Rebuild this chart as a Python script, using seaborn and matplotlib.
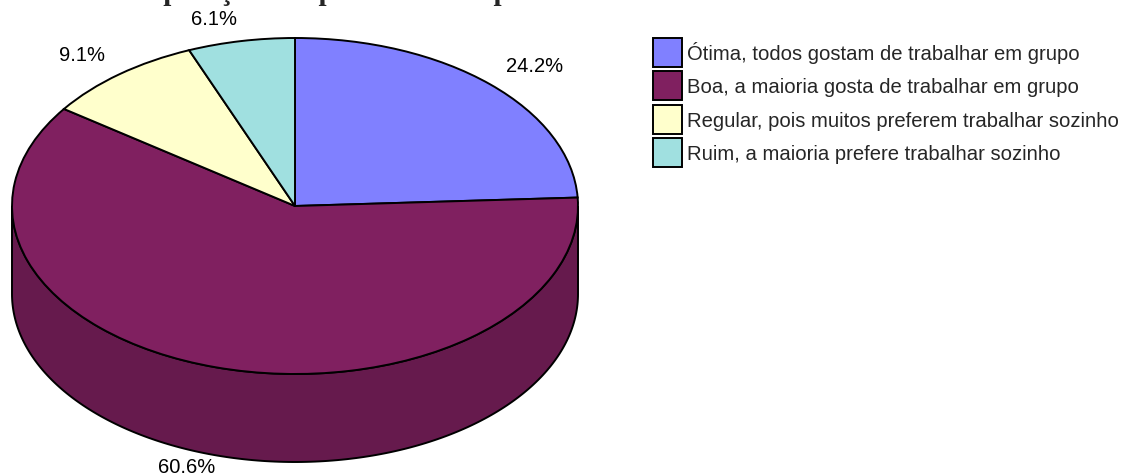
import numpy as np
import matplotlib
matplotlib.use("Agg")
import matplotlib.pyplot as plt
import matplotlib.colors as mcolors
import seaborn as sns

# Survey answers and their shares (%)
categories = [
    "Ótima, todos gostam de trabalhar em grupo",
    "Boa, a maioria gosta de trabalhar em grupo",
    "Regular, pois muitos preferem trabalhar sozinho",
    "Ruim, a maioria prefere trabalhar sozinho",
]
shares = [24.2, 60.6, 9.1, 6.1]
title = "Cooperação dos pares em sala para trabalhos"

sns.set_theme(style="white")
plt.rcParams["font.family"] = ["Liberation Sans", "DejaVu Sans"]

palette = sns.color_palette(["#8080FF", "#802060", "#FFFFCC", "#A0E0E0"])

W, H, DPI = 1141, 477, 100
fig = plt.figure(figsize=(W / DPI, H / DPI), dpi=DPI)
fig.patch.set_facecolor("white")
ax = fig.add_axes([0, 0, 1, 1])

# pixel geometry of the tilted disc
cx, cy, rx, ry, depth_px = 295, 207, 283, 168, 88
depth = depth_px / ry

wedges, _ = ax.pie(
    shares, colors=palette, startangle=90, counterclock=False,
    wedgeprops=dict(edgecolor="black", linewidth=1.4), radius=1,
)
for w in wedges:
    w.set_zorder(3)

# side wall of the cylinder, visible only in the front (lower) half
for w, col in zip(wedges, palette):
    t1, t2 = w.theta1, w.theta2
    for k in (-1, 0, 1):
        a = max(t1, 180 + 360 * k)
        b = min(t2, 360 + 360 * k)
        if b <= a:
            continue
        t = np.radians(np.linspace(a, b, 200))
        xs = np.cos(t)
        ys = np.sin(t)
        px = np.concatenate([xs, xs[::-1]])
        py = np.concatenate([ys, ys[::-1] - depth])
        dark = tuple(c * 0.8 for c in mcolors.to_rgb(col))
        ax.fill(px, py, facecolor=dark, edgecolor="black", linewidth=1.4, zorder=2)

# percentage labels just outside each slice
for w, v in zip(wedges, shares):
    mid = np.radians((w.theta1 + w.theta2) / 2)
    c, s = np.cos(mid), np.sin(mid)
    if s > 0:
        r = 1.08
        x, y = r * c, r * s
    else:
        r = 1.01
        x, y = r * c, r * s - depth
    ax.text(x, y, f"{v:.1f}%", fontsize=14.5, color="black",
            ha="left" if c > 0 else "right",
            va="bottom" if s > 0 else "top", zorder=5)

ax.set_aspect("auto")
ax.set_xlim((0 - cx) / rx, (W - cx) / rx)
ax.set_ylim((cy - H) / ry, cy / ry)
ax.axis("off")

fig.legend(
    wedges, categories, loc="upper left",
    bbox_to_anchor=(653 / W, 1 - 39 / H), frameon=False,
    fontsize=14.6, handlelength=1.45, handleheight=1.84,
    handletextpad=0.25, labelspacing=0.2, borderpad=0, borderaxespad=0,
)

fig.text(113 / W, 1.0, title, fontsize=21, fontweight="bold",
         family=["Liberation Serif", "DejaVu Serif"], va="baseline", ha="left")

fig.savefig("out.png", dpi=DPI, facecolor="white")
